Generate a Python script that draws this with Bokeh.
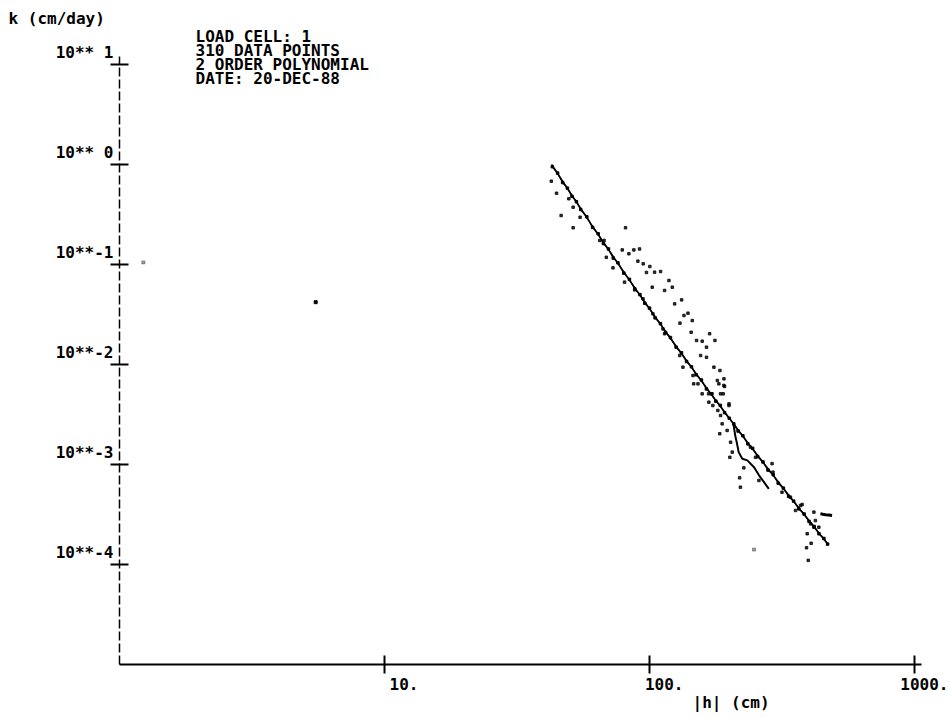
from bokeh.plotting import figure
from bokeh.models import FixedTicker, Range1d, LogAxis, LogScale
from bokeh.core.properties import value
from bokeh.embed import file_html
from bokeh.resources import INLINE

FONT = "DejaVu Sans Mono"

# ---- axes / ticks ----
x_ticks = [10, 100, 1000]
x_tick_labels = ["10.", "100.", "1000."]
y_ticks = [10, 1, 0.1, 0.01, 0.001, 0.0001]
y_tick_labels = ["10** 1", "10** 0", "10**-1", "10**-2", "10**-3", "10**-4"]
x_axis_span = (1, 1062)
y_axis_span = (1e-5, 12.0)

header_lines = ["LOAD CELL:  1", "310 DATA POINTS", "2 ORDER POLYNOMIAL", "DATE: 20-DEC-88"]
y_title = "k (cm/day)"
x_title = "|h| (cm)"

# ---- 2nd order polynomial fit ----
fit_h = [42.7, 60, 85, 120, 170, 240, 340, 473]
fit_k = [1.0, 0.256, 0.0667, 0.0182, 0.00514, 0.00153, 0.00047, 0.000158]

# ---- measured data, main branch ----
main_h = [43, 45, 47, 49, 51, 53, 55, 58, 61, 64, 67, 70, 73, 76, 80, 84, 88, 92, 96, 100,
          105, 110, 115, 120, 126, 132, 138, 144, 150, 157, 164, 171, 178, 185, 192, 200,
          208, 216, 225, 235, 245, 256, 268, 280, 293, 306, 320, 335, 350, 366, 383, 400,
          418, 436, 455, 470]
main_k = [0.95, 0.82, 0.66, 0.58, 0.48, 0.425, 0.355, 0.30, 0.235, 0.203, 0.162, 0.143, 0.116,
          0.104, 0.082, 0.071, 0.057, 0.050, 0.041, 0.0366, 0.0293, 0.0256, 0.0209, 0.0186,
          0.0149, 0.0131, 0.0107, 0.0095, 0.0079, 0.0070, 0.0057, 0.0051, 0.0043, 0.0039,
          0.0033, 0.0029, 0.00255, 0.00216, 0.00194, 0.00161, 0.00145, 0.00120, 0.00106,
          0.00088, 0.00079, 0.00065, 0.00058, 0.00048, 0.00043, 0.00036, 0.00032, 0.00027,
          0.00024, 0.000203, 0.000182, 0.000160]

# ---- measured data, lower branch ----
branch_h = [207, 209, 211, 214, 217, 224, 234, 248, 259, 270, 282]
branch_k = [0.00265, 0.00222, 0.00190, 0.00161, 0.00133, 0.00114, 0.00110, 0.00094, 0.00078,
            0.00067, 0.00057]

# ---- short horizontal run at the end ----
tail_h = [441.6, 451, 461.3, 475, 488.7]
tail_k = [0.000321, 0.000318, 0.000315, 0.000312, 0.000309]

# ---- scattered points ----
cloud_h = [81.2, 78.9, 83.6, 87.3, 91.7, 90.4, 94.7, 100.3, 97.4, 104.5, 110.1, 118.4, 102.4,
           114.0, 121.9, 124.4, 132.2, 134.9, 139.7, 130.3, 145.0, 143.6, 150.5, 158.1, 168.6,
           176.6, 164.1, 155.9, 164.1, 175.0, 184.4, 180.3, 191.0, 192.0, 185.4, 199.5]
cloud_k = [0.233, 0.140, 0.128, 0.140, 0.143, 0.108, 0.1016, 0.0955, 0.0832, 0.0838, 0.0851,
           0.0692, 0.0593, 0.0550, 0.0593, 0.0404, 0.0443, 0.0309, 0.0326, 0.0259, 0.0275,
           0.0210, 0.0174, 0.0171, 0.0203, 0.0174, 0.0149, 0.0123, 0.0118, 0.00940, 0.00871,
           0.00692, 0.00719, 0.00603, 0.00509, 0.00404]
left_h = [42.6, 44.6, 46.4, 51.5, 51.5, 54.7, 49.6, 64.9, 67.4, 68.7, 72.8, 80.5, 87.9, 94.5,
          103.0, 112.4, 114.0, 130.0, 133.7, 145.9, 152.4, 167.1, 173.4, 181.1]
left_k = [0.681, 0.516, 0.309, 0.374, 0.233, 0.297, 0.454, 0.174, 0.174, 0.118, 0.0926, 0.0666,
          0.0558, 0.0454, 0.0321, 0.0227, 0.0203, 0.0123, 0.0094, 0.00776, 0.00641, 0.00509,
          0.00389, 0.00347]
low_h = [146.8, 158.0, 172.2, 182.7, 190.8, 189.7, 167.5, 185.4, 188.0, 184.1, 196.3, 202.3,
         205.2, 201.0, 199.5, 240.4, 251.2, 258.8, 290.1, 292.4, 316.2, 340.4, 355.6, 371.5,
         376.7, 417.2, 422.7, 435.5, 405.5, 417.2, 393.6, 407.4, 391.4, 397.2, 227.0, 220.3,
         218.8]
low_k = [0.00641, 0.00509, 0.00509, 0.00641, 0.00617, 0.00509, 0.00420, 0.00309, 0.00255,
         0.00203, 0.00219, 0.00167, 0.00133, 0.00118, 0.00389, 0.00149, 0.00118, 0.000692,
         0.00102, 0.000838, 0.000528, 0.000471, 0.000347, 0.000389, 0.000398, 0.000334,
         0.000275, 0.000236, 0.000255, 0.000236, 0.000203, 0.000163, 0.000147, 0.000110,
         0.000926, 0.000593, 0.000736]
stray_h = [5.5, 1.23, 247.9]
stray_k = [0.042, 0.105, 0.000141]
stray_alpha = [1.0, 0.35, 0.35]

# canvas: h = 1 sits 119 px from the left edge, one decade = 265 px;
# k = 1e-5 sits 664 px from the top, one decade = 100 px
W, H = 948, 718
X0, Y0, DX, DY = 119, 664, 265, 100
X_RANGE = (10 ** (-X0 / DX), 10 ** ((W - X0) / DX))
Y_RANGE = (10 ** (-5 - (H - Y0) / DY), 10 ** (-5 + Y0 / DY))

p = figure(width=W, height=H, x_axis_type=None, y_axis_type=None,
           x_axis_location=None, y_axis_location=None,
           x_range=Range1d(*X_RANGE), y_range=Range1d(*Y_RANGE),
           output_backend="svg", toolbar_location=None, min_border=0)
p.x_scale = LogScale()
p.y_scale = LogScale()
p.outline_line_color = None
p.background_fill_color = "white"
p.border_fill_color = "white"

xaxis = LogAxis(fixed_location=y_axis_span[0], bounds=x_axis_span,
                ticker=FixedTicker(ticks=x_ticks, minor_ticks=[]))
yaxis = LogAxis(fixed_location=x_axis_span[0], bounds=y_axis_span,
                ticker=FixedTicker(ticks=y_ticks, minor_ticks=[]))
for ax in (xaxis, yaxis):
    ax.major_label_text_font_size = "0px"
    ax.major_label_text_color = None
    ax.minor_tick_line_color = None
    ax.major_tick_in = 9
    ax.major_tick_out = 9
    ax.axis_line_color = "black"
    ax.major_tick_line_color = "black"
    ax.major_tick_line_width = 2
xaxis.axis_line_width = 2
yaxis.axis_line_width = 1.5
yaxis.axis_line_dash = "9 3"
p.add_layout(xaxis, "below")
p.add_layout(yaxis, "left")

# data
p.line(fit_h, fit_k, line_color="black", line_width=1.6)
p.line(main_h, main_k, line_color="black", line_width=1.4)
p.scatter(main_h, main_k, marker="square", size=2.5, color="black")
p.line(branch_h, branch_k, line_color="black", line_width=2)
p.line(tail_h, tail_k, line_color="black", line_width=3)
p.scatter(cloud_h, cloud_k, marker="square", size=2.5, color="black", alpha=0.8)
p.scatter(left_h, left_k, marker="square", size=2.5, color="black", alpha=0.8)
p.scatter(low_h, low_k, marker="square", size=2.5, color="black", alpha=0.8)
p.scatter(stray_h, stray_k, marker="square", size=3, color="black", alpha=stray_alpha)

FS = value("16px")
TF = value(FONT)
TS = value("bold")
common = dict(text_baseline="middle", text_font=TF, text_font_size=FS,
              text_font_style=TS, text_color="black")
p.text(x=[x_axis_span[0]] * len(y_ticks), y=y_ticks, text=y_tick_labels,
       x_offset=-6, y_offset=-12, text_align="right", **common)
p.text(x=x_ticks, y=[y_axis_span[0]] * len(x_ticks), text=x_tick_labels,
       x_offset=34, y_offset=19, text_align="right", **common)
p.text(x=[x_axis_span[0]], y=[y_axis_span[1]], text=[y_title],
       x_offset=-111, y_offset=-38, text_align="left", **common)
p.text(x=[x_axis_span[0]] * len(header_lines), y=[y_axis_span[1]] * len(header_lines),
       text=header_lines, x_offset=76, y_offset=[-20, -6, 8, 22],
       text_align="left", **common)
p.text(x=[x_ticks[1]], y=[y_axis_span[0]], text=[x_title],
       x_offset=43, y_offset=38, text_align="left", **common)

open("out.html", "w").write(file_html(p, INLINE))
